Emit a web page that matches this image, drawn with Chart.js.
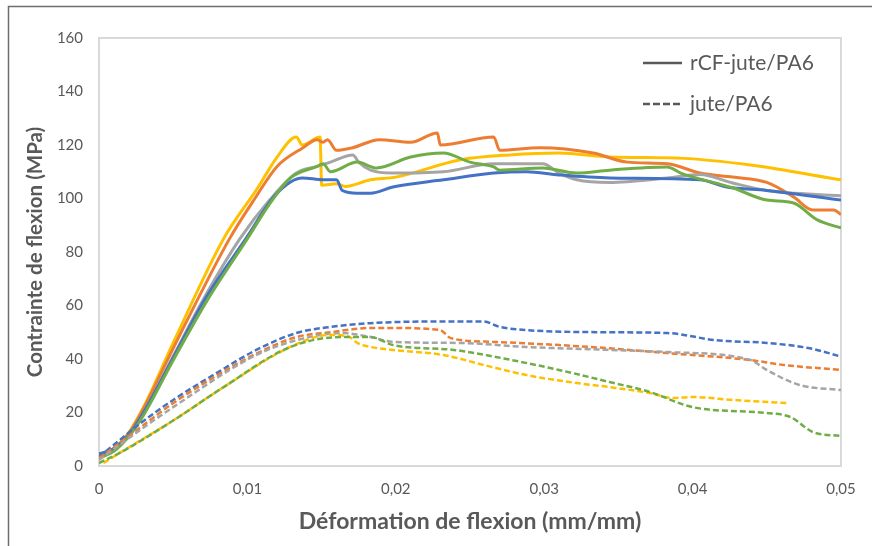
<!DOCTYPE html>
<html>
<head>
<meta charset="utf-8">
<script src="https://cdn.jsdelivr.net/npm/chart.js@4"></script>
<style>
  html, body { margin: 0; padding: 0; background: #fff; }
  #wrap { width: 872px; height: 546px; position: relative; }
</style>
</head>
<body>
<div id="wrap"><canvas id="chart" width="872" height="546"></canvas></div>
<script>
// axis ticks
const xTicks = [0, 0.01, 0.02, 0.03, 0.04, 0.05];
const yTicks = [0, 20, 40, 60, 80, 100, 120, 140, 160];
const legendLabels = ['rCF-jute/PA6', 'jute/PA6'];

// rCF-jute/PA6 (solid) : [strain, stress]
const rcfBlue = [[0,4.5],[0.001,6.5],[0.002,11.5],[0.003,20],[0.005,40.5],[0.0071,62],[0.0099,85],[0.012,102],[0.0137,107.7],[0.0151,107],[0.016,107],[0.0164,103],[0.0174,102],[0.0183,102],[0.0198,104.3],[0.0232,107],[0.0266,109.5],[0.0288,110],[0.031,108.8],[0.0344,107.7],[0.0405,107],[0.0423,104.3],[0.045,103],[0.05,99.4]];
const rcfOrange = [[0,3.5],[0.001,6.5],[0.002,12],[0.003,21.5],[0.005,44],[0.0088,85],[0.0105,100],[0.012,112],[0.01375,119],[0.0147,122],[0.0151,121],[0.0154,122],[0.016,118],[0.0171,119],[0.0189,122],[0.021,121],[0.0228,124.5],[0.023,120],[0.0266,123],[0.027,118],[0.0297,119],[0.0333,117],[0.0356,113.6],[0.0383,113],[0.0405,109.5],[0.0427,108],[0.045,106],[0.0468,100.6],[0.0481,95.7],[0.0495,95.7],[0.05,94]];
const rcfGray = [[0,3],[0.001,6],[0.002,11.5],[0.003,20],[0.005,41],[0.007,62],[0.0095,85],[0.0115,99.4],[0.0133,109.5],[0.0147,112],[0.0156,113.6],[0.0171,116.3],[0.0175,113.6],[0.0183,110.6],[0.0198,109.5],[0.0232,110],[0.0266,113],[0.0299,113],[0.031,109.5],[0.0322,107],[0.0344,106],[0.0383,107.7],[0.0405,109],[0.0427,105.8],[0.045,103],[0.05,101]];
const rcfYellow = [[0,4],[0.001,6.5],[0.002,12.5],[0.003,22],[0.005,46],[0.0084,85],[0.0107,104],[0.012,115.5],[0.0133,123],[0.0137,120],[0.0149,123],[0.0150,105],[0.016,105.5],[0.0166,104.5],[0.0183,107],[0.02,108],[0.0243,114.4],[0.0277,116.3],[0.031,117],[0.0344,115.5],[0.0394,115],[0.0439,112.5],[0.05,107]];
const rcfGreen = [[0,3],[0.001,5.5],[0.002,11],[0.003,19],[0.005,39.5],[0.0073,62],[0.01,85],[0.0115,98],[0.0129,107.7],[0.0147,112],[0.0151,113],[0.0156,110],[0.0174,113.6],[0.0187,111.4],[0.021,115.5],[0.0232,117],[0.025,113.6],[0.0266,111.8],[0.027,110.6],[0.0299,111.4],[0.0322,109.5],[0.0344,110.6],[0.0383,111.8],[0.0392,109.5],[0.0427,104],[0.045,99.4],[0.0468,98.3],[0.0484,92],[0.05,89]];

// jute/PA6 (dashed)
const juteBlue = [[0,3.4],[0.0014,9.7],[0.0028,16],[0.005,24.7],[0.008,35],[0.0106,43.4],[0.0133,49.7],[0.0156,52],[0.0183,53.4],[0.0221,54],[0.0259,54],[0.027,52],[0.0288,50.8],[0.0344,50],[0.0383,49.7],[0.0416,47],[0.045,46],[0.0479,44],[0.05,40.9]];
const juteOrange = [[0,3],[0.0014,8.6],[0.005,23.5],[0.008,34],[0.0106,42],[0.0133,48.2],[0.0156,50],[0.0183,51.6],[0.0198,51.6],[0.023,50.8],[0.0237,47.8],[0.0266,46.4],[0.031,45.2],[0.0344,44],[0.0383,42.2],[0.0439,39.6],[0.0461,37.8],[0.05,35.9]];
const juteGray = [[0,2.2],[0.0014,8],[0.005,22],[0.0106,41.5],[0.0133,47],[0.0164,49.7],[0.0183,48.2],[0.0198,46.4],[0.0243,46],[0.0288,44.5],[0.0344,43.4],[0.0383,42.6],[0.0439,39.6],[0.045,35.9],[0.0472,30.3],[0.05,28.4]];
const juteYellow = [[0.0003,1.1],[0.0014,4.9],[0.005,17],[0.0084,29.5],[0.0129,44.5],[0.0156,49],[0.0169,48.2],[0.0174,46],[0.0183,44.5],[0.0198,43.4],[0.0232,41.5],[0.0259,37.8],[0.0288,34],[0.0322,31],[0.0344,29.5],[0.0371,27.3],[0.0387,25.4],[0.04,25.8],[0.0427,24.7],[0.0464,23.5]];
const juteGreen = [[0,1.1],[0.0014,4.9],[0.005,17],[0.0084,29.5],[0.0129,44.5],[0.0164,48.2],[0.0183,48.2],[0.0198,45.2],[0.0239,43.4],[0.0266,40.9],[0.031,35.9],[0.0344,31.4],[0.0371,27.7],[0.04,22],[0.045,19.8],[0.0466,18.3],[0.0481,12.7],[0.05,11.2]];

const BLUE = '#4472C4', ORANGE = '#ED7D31', GRAY = '#A5A5A5', YELLOW = '#FFC000', GREEN = '#70AD47';
const TEXT = '#595959';
const FONT = 'Lato, "Liberation Sans", sans-serif';

function series(points, color, dashed) {
    return {
        data: points.map(p => ({ x: p[0], y: p[1] })),
        borderColor: color,
        borderWidth: dashed ? 2.5 : 3,
        borderDash: dashed ? [6, 3] : [],
        pointRadius: 0,
        fill: false,
        cubicInterpolationMode: 'monotone'
    };
}

// plot border, outer frame and legend drawn on the canvas
const decorations = {
    id: 'decorations',
    beforeDatasetsDraw(chart) {
        const { ctx, chartArea: a } = chart;
        ctx.save();
        ctx.strokeStyle = '#d9d9d9';
        ctx.lineWidth = 2;
        ctx.strokeRect(a.left, a.top, a.right - a.left, a.bottom - a.top);
        ctx.restore();
    },
    afterDraw(chart) {
        const { ctx } = chart;
        ctx.save();
        ctx.strokeStyle = '#6e6e6e';
        ctx.lineWidth = 1.5;
        ctx.beginPath();
        ctx.moveTo(8.5, 546);
        ctx.lineTo(8.5, 6.5);
        ctx.lineTo(872, 6.5);
        ctx.stroke();

        ctx.strokeStyle = TEXT;
        ctx.fillStyle = TEXT;
        ctx.lineWidth = 2.5;
        ctx.font = '21px ' + FONT;
        ctx.textBaseline = 'middle';
        legendLabels.forEach((label, i) => {
            const y = 63 + i * 41;
            ctx.setLineDash(i === 0 ? [] : [7, 3]);
            ctx.beginPath();
            ctx.moveTo(643, y);
            ctx.lineTo(682, y);
            ctx.stroke();
            ctx.setLineDash([]);
            ctx.fillText(label, 690, y);
        });
        ctx.restore();
    }
};

new Chart(document.getElementById('chart'), {
    type: 'line',
    data: {
        datasets: [
            series(juteGreen, GREEN, true),
            series(juteYellow, YELLOW, true),
            series(juteGray, GRAY, true),
            series(juteOrange, ORANGE, true),
            series(juteBlue, BLUE, true),
            series(rcfGreen, GREEN, false),
            series(rcfBlue, BLUE, false),
            series(rcfGray, GRAY, false),
            series(rcfOrange, ORANGE, false),
            series(rcfYellow, YELLOW, false)
        ]
    },
    options: {
        responsive: false,
        animation: false,
        layout: { padding: { left: 0, top: 38, right: 31, bottom: 0 } },
        plugins: { legend: { display: false }, tooltip: { enabled: false } },
        scales: {
            x: {
                type: 'linear',
                min: xTicks[0],
                max: xTicks[xTicks.length - 1],
                afterBuildTicks: s => { s.ticks = xTicks.map(v => ({ value: v })); },
                afterFit: s => { s.height = 80; },
                grid: { display: false, drawTicks: false },
                border: { display: false },
                ticks: {
                    padding: 14,
                    color: TEXT,
                    font: { family: FONT, size: 15 },
                    callback: v => v === 0 ? '0' : v.toFixed(2).replace('.', ',')
                },
                title: {
                    display: true,
                    text: 'Déformation de flexion (mm/mm)',
                    color: TEXT,
                    font: { family: FONT, size: 23, weight: 'bold' },
                    padding: { top: 0, bottom: 11 }
                }
            },
            y: {
                min: yTicks[0],
                max: yTicks[yTicks.length - 1],
                afterBuildTicks: s => { s.ticks = yTicks.map(v => ({ value: v })); },
                afterFit: s => { s.width = 99; },
                grid: { display: false, drawTicks: false },
                border: { display: false },
                ticks: {
                    padding: 16,
                    color: TEXT,
                    font: { family: FONT, size: 15 }
                },
                title: {
                    display: true,
                    text: 'Contrainte de flexion (MPa)',
                    color: TEXT,
                    font: { family: FONT, size: 20.5, weight: 'bold' },
                    padding: { top: 23, bottom: 0 }
                }
            }
        }
    },
    plugins: [decorations]
});
</script>
</body>
</html>
